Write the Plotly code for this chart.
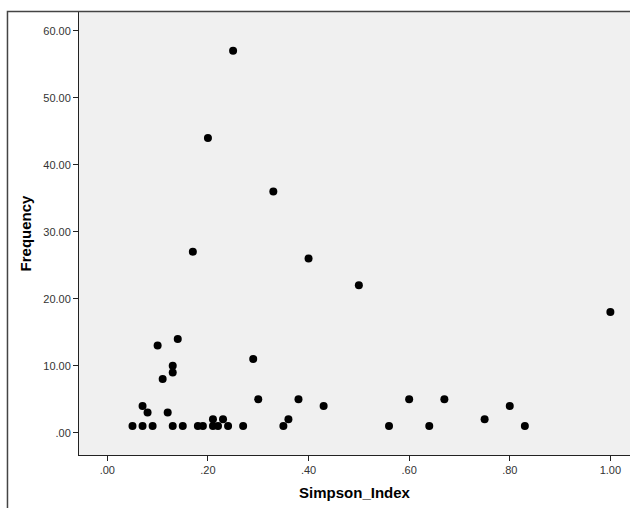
import plotly.graph_objects as go

# Data
simpson_index = [0.05, 0.07, 0.09, 0.07, 0.08, 0.10, 0.11, 0.12, 0.13, 0.13,
                 0.14, 0.13, 0.15, 0.18, 0.19, 0.21, 0.21, 0.22, 0.23, 0.24,
                 0.27, 0.29, 0.30, 0.35, 0.36, 0.38, 0.43, 0.56, 0.60, 0.64,
                 0.67, 0.75, 0.80, 0.83, 0.25, 0.20, 0.33, 0.17, 0.40, 0.50,
                 1.00]
frequency = [1, 1, 1, 4, 3, 13, 8, 3, 9, 10,
             14, 1, 1, 1, 1, 2, 1, 1, 2, 1,
             1, 11, 5, 1, 2, 5, 4, 1, 5, 1,
             5, 2, 4, 1, 57, 44, 36, 27, 26, 22,
             18]

x_tickvals = [0.0, 0.2, 0.4, 0.6, 0.8, 1.0]
x_ticktext = [".00", ".20", ".40", ".60", ".80", "1.00"]
y_tickvals = [0, 10, 20, 30, 40, 50, 60]
y_ticktext = [".00", "10.00", "20.00", "30.00", "40.00", "50.00", "60.00"]

fig = go.Figure()
fig.add_trace(go.Scatter(
    x=simpson_index, y=frequency, mode="markers",
    marker=dict(color="black", size=8, line=dict(width=0)),
    showlegend=False, hoverinfo="x+y",
))

axis_font = dict(family="Liberation Sans, Arial, sans-serif", size=11, color="#333333")
title_font = dict(family="Liberation Sans, Arial, sans-serif", size=15, color="black")

fig.update_layout(
    width=630, height=508,
    margin=dict(l=79, r=0, t=12, b=53, autoexpand=False),
    paper_bgcolor="white",
    plot_bgcolor="#F0F0F0",
    xaxis=dict(
        range=[-0.0563, 1.039], tickvals=x_tickvals, ticktext=x_ticktext,
        ticks="outside", ticklen=5, tickwidth=1, tickcolor="#222222",
        showline=True, linecolor="#222222", linewidth=1,
        showgrid=False, zeroline=False, tickfont=axis_font,
        title=dict(text="<b>Simpson_Index</b>", font=title_font, standoff=12),
        fixedrange=True,
    ),
    yaxis=dict(
        range=[-3.33, 62.8], tickvals=y_tickvals, ticktext=y_ticktext,
        ticks="outside", ticklen=5, tickwidth=1, tickcolor="#222222",
        showline=True, linecolor="#222222", linewidth=1,
        showgrid=False, zeroline=False, tickfont=axis_font,
        title=dict(text="<b>Frequency</b>", font=title_font, standoff=8),
        fixedrange=True,
    ),
    shapes=[dict(
        type="path", xref="paper", yref="paper",
        path="M -0.1298,-0.13 L -0.1298,1.0011 L 1.002,1.0011",
        line=dict(color="#444444", width=1.5),
    )],
)

fig.write_html("out.html")
